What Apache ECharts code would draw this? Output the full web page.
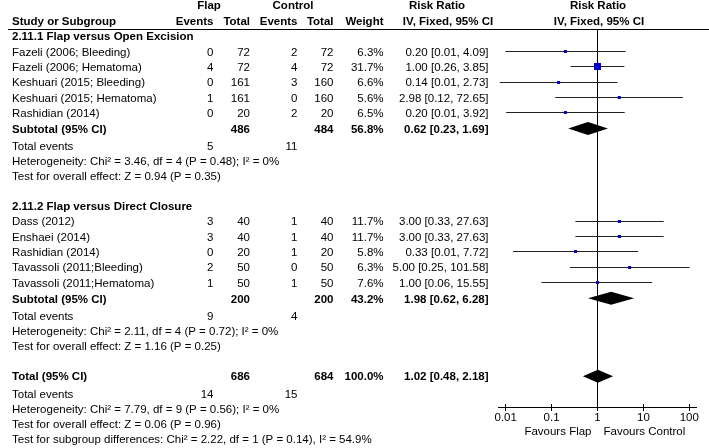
<!DOCTYPE html>
<html><head><meta charset="utf-8">
<script src="https://cdn.jsdelivr.net/npm/echarts@6/dist/echarts.min.js"></script>
<style>html,body{margin:0;padding:0;background:#fff}#c{width:709px;height:448px}</style>
</head><body><div id="c"></div>
<script>
// ---------------- DATA ----------------
const g1Title = '2.11.1 Flap versus Open Excision';
const g1Studies = ['Fazeli (2006; Bleeding)', 'Fazeli (2006; Hematoma)', 'Keshuari (2015; Bleeding)', 'Keshuari (2015; Hematoma)', 'Rashidian (2014)'];
const g1FlapEvents = [0, 4, 0, 1, 0];
const g1FlapTotal = [72, 72, 161, 161, 20];
const g1CtrlEvents = [2, 4, 3, 0, 2];
const g1CtrlTotal = [72, 72, 160, 160, 20];
const g1Weight = [6.3, 31.7, 6.6, 5.6, 6.5];
const g1RR = [0.20, 1.00, 0.142, 2.98, 0.20];
const g1Lo = [0.0098, 0.26, 0.0074, 0.12, 0.0102];
const g1Hi = [4.09, 3.85, 2.73, 72.65, 3.92];
const g1Sub = {flapTotal: 486, ctrlTotal: 484, weight: 56.8, rr: 0.62, lo: 0.23, hi: 1.69, flapEv: 5, ctrlEv: 11};
const g1Het = 'Heterogeneity: Chi² = 3.46, df = 4 (P = 0.48); I² = 0%';
const g1Test = 'Test for overall effect: Z = 0.94 (P = 0.35)';

const g2Title = '2.11.2 Flap versus Direct Closure';
const g2Studies = ['Dass (2012)', 'Enshaei (2014)', 'Rashidian (2014)', 'Tavassoli (2011;Bleeding)', 'Tavassoli (2011;Hematoma)'];
const g2FlapEvents = [3, 3, 0, 2, 1];
const g2FlapTotal = [40, 40, 20, 50, 50];
const g2CtrlEvents = [1, 1, 1, 0, 1];
const g2CtrlTotal = [40, 40, 20, 50, 50];
const g2Weight = [11.7, 11.7, 5.8, 6.3, 7.6];
const g2RR = [3.00, 3.00, 0.333, 5.00, 1.00];
const g2Lo = [0.33, 0.33, 0.0144, 0.25, 0.06];
const g2Hi = [27.63, 27.63, 7.72, 101.58, 15.55];
const g2Sub = {flapTotal: 200, ctrlTotal: 200, weight: 43.2, rr: 1.98, lo: 0.62, hi: 6.28, flapEv: 9, ctrlEv: 4};
const g2Het = 'Heterogeneity: Chi² = 2.11, df = 4 (P = 0.72); I² = 0%';
const g2Test = 'Test for overall effect: Z = 1.16 (P = 0.25)';

const totalSum = {flapTotal: 686, ctrlTotal: 684, weight: 100.0, rr: 1.02, lo: 0.48, hi: 2.18, flapEv: 14, ctrlEv: 15};
const totalHet = 'Heterogeneity: Chi² = 7.79, df = 9 (P = 0.56); I² = 0%';
const totalTest = 'Test for overall effect: Z = 0.06 (P = 0.96)';
const subgroupTest = 'Test for subgroup differences: Chi² = 2.22, df = 1 (P = 0.14), I² = 54.9%';

const tickValues = [0.01, 0.1, 1, 10, 100];
const tickLabels = ['0.01', '0.1', '1', '10', '100'];
const favoursLeft = 'Favours Flap';
const favoursRight = 'Favours Control';

// ---------------- LAYOUT ----------------
const FONT = '"Liberation Sans", Arial, sans-serif';
const FS = 11.5;
const ROW_H = 15.35;
const GRID_TOP = 36;
const AXIS_Y = 407;
const COL = {study: 12, flapEv: 213.5, flapTot: 250, ctrlEv: 297.5, ctrlTot: 333.5, weight: 383.5, ci: 488.5};
const ROWS = {hdr1: -2.0, hdr2: -0.98, hline: -0.456, g1: 0, g2: 11.07, total: 22.17};
const IN_GROUP = {sub: 6.02, events: 7.15, het: 8.13, test: 9.1};
const IN_TOTAL = {events: 1.13, het: 2.11, test: 3.09, sub: 4.07};

function ciText(rr, lo, hi) { return rr.toFixed(2) + ' [' + lo.toFixed(2) + ', ' + hi.toFixed(2) + ']'; }
function cell(text, x, align, bold) { return {text: String(text), x: x, align: align || 'right', bold: !!bold}; }

const studies = [];
const tableRows = [];
const diamonds = [];
tableRows.push({row: ROWS.hdr1, cells: [
  cell('Flap', 209, 'center', true), cell('Control', 293, 'center', true),
  cell('Risk Ratio', 437, 'center', true), cell('Risk Ratio', 598, 'center', true)]});
tableRows.push({row: ROWS.hdr2, cells: [
  cell('Study or Subgroup', COL.study, 'left', true), cell('Events', COL.flapEv, 'right', true),
  cell('Total', COL.flapTot, 'right', true), cell('Events', COL.ctrlEv, 'right', true),
  cell('Total', COL.ctrlTot, 'right', true), cell('Weight', COL.weight, 'right', true),
  cell('IV, Fixed, 95% CI', 448, 'center', true), cell('IV, Fixed, 95% CI', 599, 'center', true)]});

function addGroup(base, title, names, fe, ft, ce, ct, w, rr, lo, hi, sub, het, test) {
  tableRows.push({row: base, cells: [cell(title, COL.study, 'left', true)]});
  names.forEach(function (n, i) {
    const r = base + 1 + i;
    studies.push([rr[i], lo[i], hi[i], r, w[i]]);
    tableRows.push({row: r, cells: [cell(n, COL.study, 'left'), cell(fe[i], COL.flapEv), cell(ft[i], COL.flapTot),
      cell(ce[i], COL.ctrlEv), cell(ct[i], COL.ctrlTot), cell(w[i].toFixed(1) + '%', COL.weight),
      cell(ciText(rr[i], lo[i], hi[i]), COL.ci)]});
  });
  const rs = base + IN_GROUP.sub;
  diamonds.push([sub.rr, sub.lo, sub.hi, rs]);
  tableRows.push({row: rs, cells: [cell('Subtotal (95% CI)', COL.study, 'left', true), cell(sub.flapTotal, COL.flapTot, 'right', true),
    cell(sub.ctrlTotal, COL.ctrlTot, 'right', true), cell(sub.weight.toFixed(1) + '%', COL.weight, 'right', true),
    cell(ciText(sub.rr, sub.lo, sub.hi), COL.ci, 'right', true)]});
  tableRows.push({row: base + IN_GROUP.events, cells: [cell('Total events', COL.study, 'left'), cell(sub.flapEv, COL.flapEv), cell(sub.ctrlEv, COL.ctrlEv)]});
  tableRows.push({row: base + IN_GROUP.het, cells: [cell(het, COL.study, 'left')]});
  tableRows.push({row: base + IN_GROUP.test, cells: [cell(test, COL.study, 'left')]});
}
addGroup(ROWS.g1, g1Title, g1Studies, g1FlapEvents, g1FlapTotal, g1CtrlEvents, g1CtrlTotal, g1Weight, g1RR, g1Lo, g1Hi, g1Sub, g1Het, g1Test);
addGroup(ROWS.g2, g2Title, g2Studies, g2FlapEvents, g2FlapTotal, g2CtrlEvents, g2CtrlTotal, g2Weight, g2RR, g2Lo, g2Hi, g2Sub, g2Het, g2Test);

const rt = ROWS.total;
diamonds.push([totalSum.rr, totalSum.lo, totalSum.hi, rt]);
tableRows.push({row: rt, cells: [cell('Total (95% CI)', COL.study, 'left', true), cell(totalSum.flapTotal, COL.flapTot, 'right', true),
  cell(totalSum.ctrlTotal, COL.ctrlTot, 'right', true), cell(totalSum.weight.toFixed(1) + '%', COL.weight, 'right', true),
  cell(ciText(totalSum.rr, totalSum.lo, totalSum.hi), COL.ci, 'right', true)]});
tableRows.push({row: rt + IN_TOTAL.events, cells: [cell('Total events', COL.study, 'left'), cell(totalSum.flapEv, COL.flapEv), cell(totalSum.ctrlEv, COL.ctrlEv)]});
tableRows.push({row: rt + IN_TOTAL.het, cells: [cell(totalHet, COL.study, 'left')]});
tableRows.push({row: rt + IN_TOTAL.test, cells: [cell(totalTest, COL.study, 'left')]});
tableRows.push({row: rt + IN_TOTAL.sub, cells: [cell(subgroupTest, COL.study, 'left')]});

const yMax = (AXIS_Y - GRID_TOP) / ROW_H;
const crisp = v => Math.round(v - 0.5) + 0.5;

const chart = echarts.init(document.getElementById('c'), null, {renderer: 'canvas'});
chart.setOption({
  animation: false,
  backgroundColor: '#fff',
  grid: {left: 505.7, right: 709 - 689.3, top: GRID_TOP, bottom: 448 - AXIS_Y},
  xAxis: {type: 'log', logBase: 10, min: 0.01, max: 100,
    axisLine: {show: false}, axisTick: {show: false}, splitLine: {show: false},
    axisLabel: {show: true, margin: 5, color: '#000', fontSize: FS, fontFamily: FONT,
      formatter: v => tickLabels[tickValues.findIndex(t => Math.abs(Math.log10(t) - Math.log10(v)) < 1e-6)] || ''}},
  yAxis: {type: 'value', inverse: true, min: 0, max: yMax, show: false},
  series: [
    { // table text
      type: 'custom', clip: false, silent: true,
      data: tableRows.map(r => [1, r.row]),
      encode: {x: 0, y: 1},
      renderItem: function (params, api) {
        const tr = tableRows[params.dataIndex];
        const y = api.coord([1, tr.row])[1] + 1;
        return {type: 'group', children: tr.cells.map(c => ({
          type: 'text',
          style: {text: c.text, x: c.x, y: y, fill: '#000',
            font: (c.bold ? 'bold ' : '') + FS + 'px ' + FONT,
            textAlign: c.align, align: c.align, textVerticalAlign: 'middle', verticalAlign: 'middle'}
        }))};
      }
    },
    { // frame: header line, null line, axis line, ticks, favours labels
      type: 'custom', clip: false, silent: true,
      data: [[1, 0]],
      encode: {x: 0, y: 1},
      renderItem: function (params, api) {
        const hy = crisp(api.coord([1, ROWS.hline])[1]);
        const ay = crisp(api.coord([1, yMax])[1]);
        const x1 = crisp(api.coord([1, 0])[0]);
        const xL = api.coord([tickValues[0], 0])[0] - 7.7;
        const xR = api.coord([tickValues[tickValues.length - 1], 0])[0] + 7.7;
        const ch = [
          {type: 'line', shape: {x1: 8, y1: hy, x2: 709, y2: hy}, style: {stroke: '#000', lineWidth: 1}},
          {type: 'line', shape: {x1: x1, y1: hy, x2: x1, y2: ay}, style: {stroke: '#000', lineWidth: 1}},
          {type: 'line', shape: {x1: xL, y1: ay, x2: xR, y2: ay}, style: {stroke: '#000', lineWidth: 1}}
        ];
        tickValues.forEach(t => {
          const tx = crisp(api.coord([t, 0])[0]);
          ch.push({type: 'line', shape: {x1: tx, y1: ay - 3.5, x2: tx, y2: ay + 3.5}, style: {stroke: '#000', lineWidth: 1}});
        });
        const fy = ay + 24;
        ch.push({type: 'text', style: {text: favoursLeft, x: x1 - 6, y: fy, fill: '#000', font: FS + 'px ' + FONT,
          textAlign: 'right', align: 'right', textVerticalAlign: 'middle', verticalAlign: 'middle'}});
        ch.push({type: 'text', style: {text: favoursRight, x: x1 + 6, y: fy, fill: '#000', font: FS + 'px ' + FONT,
          textAlign: 'left', align: 'left', textVerticalAlign: 'middle', verticalAlign: 'middle'}});
        return {type: 'group', children: ch};
      }
    },
    { // studies: CI lines and boxes
      type: 'custom', clip: false, silent: true,
      data: studies,
      encode: {x: [0, 1, 2], y: 3},
      renderItem: function (params, api) {
        const rr = api.value(0), lo = api.value(1), hi = api.value(2), row = api.value(3), w = api.value(4);
        const pE = api.coord([rr, row]);
        const y = crisp(pE[1]);
        const xl = api.coord([lo, row])[0], xh = api.coord([hi, row])[0];
        const side = Math.max(3, 7 * w / 31.7);
        return {type: 'group', children: [
          {type: 'line', shape: {x1: xl, y1: y, x2: xh, y2: y}, style: {stroke: '#222', lineWidth: 1}},
          {type: 'rect', shape: {x: pE[0] - side / 2, y: y - side / 2, width: side, height: side}, style: {fill: '#0000cc'}}
        ]};
      }
    },
    { // pooled diamonds
      type: 'custom', clip: false, silent: true,
      data: diamonds,
      encode: {x: [0, 1, 2], y: 3},
      renderItem: function (params, api) {
        const rr = api.value(0), lo = api.value(1), hi = api.value(2), row = api.value(3);
        const pE = api.coord([rr, row]);
        const xl = api.coord([lo, row])[0], xh = api.coord([hi, row])[0];
        const h = 6.5;
        return {type: 'polygon', shape: {points: [[xl, pE[1]], [pE[0], pE[1] - h], [xh, pE[1]], [pE[0], pE[1] + h]]},
          style: {fill: '#000'}};
      }
    }
  ]
});
</script></body></html>
